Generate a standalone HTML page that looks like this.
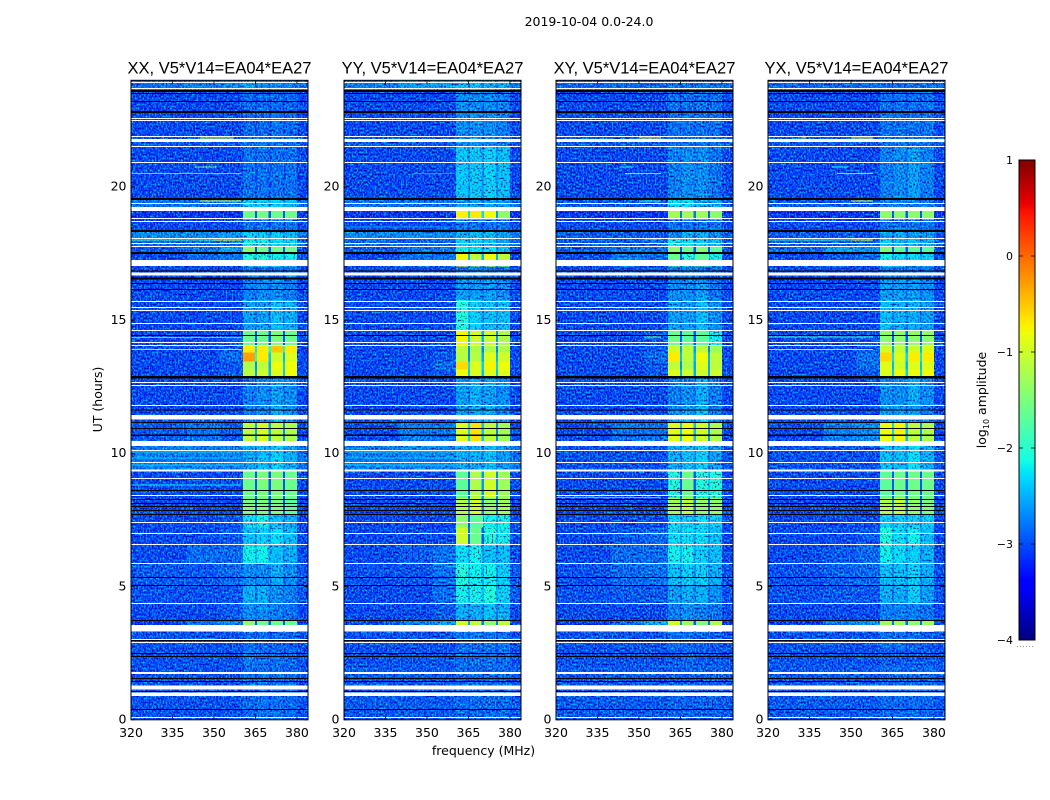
<!DOCTYPE html>
<html lang="en">
<head>
<meta charset="utf-8">
<title>2019-10-04 0.0-24.0 amplitude</title>
<style>
html,body{margin:0;padding:0;background:#fff;width:1050px;height:800px;overflow:hidden}
svg{display:block}
text{font-family:"DejaVu Sans","Liberation Sans",sans-serif;fill:#000}
text.panel-title{font-family:"Liberation Sans",sans-serif}
</style>
</head>
<body>
<svg id="chart" width="1050" height="800" viewBox="0 0 1050 800" xmlns="http://www.w3.org/2000/svg">
<defs id="defs"></defs>
<text x="589" y="26" font-size="12.5" text-anchor="middle">2019-10-04 0.0-24.0</text>
<text x="483.5" y="755" font-size="12.5" text-anchor="middle">frequency (MHz)</text>
<text transform="translate(102,399.5) rotate(-90)" font-size="12.5" text-anchor="middle">UT (hours)</text>
<text transform="translate(986,400) rotate(-90)" font-size="12.5" text-anchor="middle">log<tspan font-size="8" dy="3">10</tspan><tspan dy="-3"> amplitude</tspan></text>
<g id="panels"></g>
<g id="colorbar"></g>
</svg>
<script>
// ---- Categories and tick labels ----
const panelTitles = ["XX, V5*V14=EA04*EA27", "YY, V5*V14=EA04*EA27", "XY, V5*V14=EA04*EA27", "YX, V5*V14=EA04*EA27"];
const freqTicks = [320, 335, 350, 365, 380];
const hourTicks = [0, 5, 10, 15, 20];
const colorTicks = [1, 0, -1, -2, -3, -4];
const freqRange = [320, 384];
const hourRange = [0, 24];
const colorRange = [-4, 1];

// Frequency band edges in MHz: three background bands, four receiver sub-bands, one upper background band
const bandEdges = [320, 340, 352, 360.5, 365.2, 370.2, 375.3, 380, 384];
const notchCentres = [365.2, 370.2, 375.3];
const notchWidth = 0.8;
const strongNotchDepth = 1.25;
const weakNotchDepth = 0.35;
const brightLevel = -1.75;
const noiseFloorLevel = -2.95;
const noiseCompensation = 0.28;

// Start hour of each time block (descending), last entry closes the final block
const blockHours = [24, 23.63, 22.80, 21.91, 21.53, 19.58, 19.24, 18.78, 18.34, 18.07, 17.77, 17.51, 17.02, 16.57, 15.75, 14.62, 14.02, 13.79, 13.45, 13.15, 12.85, 11.80, 11.16, 10.45, 9.36, 8.32, 7.72, 7.22, 6.55, 5.88, 5.05, 4.38, 3.74, 3.29, 2.62, 2.06, 0];

// log10 amplitude per time block: one value per band of bandEdges
const xxLevels = [
[-2.7,-2.6,-2.5,-2.4,-2.5,-2.5,-2.6,-2.7],
[-3.2,-3.2,-3.2,-3.0,-3.0,-3.0,-3.0,-3.2],
[-3.2,-3.2,-3.2,-3.0,-3.0,-2.9,-3.0,-3.2],
[-3.1,-3.1,-3.1,-2.9,-2.9,-2.9,-3.0,-3.1],
[-3.2,-3.2,-3.2,-2.85,-2.85,-2.75,-2.85,-3.2],
[-2.7,-2.7,-2.7,-2.1,-2.1,-2.1,-2.2,-2.9],
[-3.3,-3.3,-3.3,-1.6,-1.55,-1.6,-1.6,-3.3],
[-3.2,-3.2,-3.2,-2.9,-2.9,-2.9,-2.9,-3.2],
[-2.5,-2.5,-2.4,-2.1,-2.1,-2.1,-2.2,-2.6],
[-3.0,-3.0,-2.8,-1.9,-1.9,-2.0,-2.0,-3.0],
[-3.1,-2.7,-2.4,-1.4,-1.6,-1.6,-1.6,-3.2],
[-3.2,-3.0,-2.8,-1.8,-1.8,-1.9,-1.9,-3.2],
[-3.2,-3.2,-3.2,-2.9,-2.8,-2.8,-2.9,-3.2],
[-3.2,-3.2,-3.2,-2.6,-2.5,-2.5,-2.6,-3.2],
[-3.2,-3.2,-3.2,-2.4,-2.4,-2.2,-2.3,-3.2],
[-3.2,-3.2,-3.1,-1.6,-1.6,-1.5,-1.6,-3.2],
[-3.2,-3.2,-3.1,-0.7,-0.7,-0.5,-0.7,-3.2],
[-3.2,-3.2,-3.0,-0.3,-0.7,-1.0,-0.9,-3.2],
[-3.2,-3.2,-3.1,-1.2,-1.1,-0.8,-0.8,-3.2],
[-3.2,-3.2,-3.1,-1.1,-1.0,-0.9,-0.8,-3.2],
[-3.2,-3.2,-3.2,-2.6,-2.5,-2.4,-2.5,-3.2],
[-3.2,-3.2,-3.2,-2.6,-2.5,-2.3,-2.5,-3.2],
[-3.1,-2.8,-3.1,-1.1,-0.95,-1.1,-1.2,-3.2],
[-2.6,-2.6,-2.55,-2.35,-2.2,-2.1,-2.3,-2.7],
[-3.2,-3.2,-3.2,-1.6,-1.5,-1.5,-1.6,-3.2],
[-3.2,-3.2,-3.2,-1.5,-1.5,-1.5,-1.7,-3.2],
[-3.2,-3.2,-3.1,-2.0,-1.9,-2.2,-2.3,-3.2],
[-3.2,-3.2,-3.1,-2.2,-2.1,-2.0,-2.2,-3.2],
[-3.2,-3.0,-3.0,-1.9,-1.9,-2.2,-2.3,-3.2],
[-3.1,-3.1,-3.0,-2.5,-2.5,-2.3,-2.5,-3.1],
[-3.15,-3.15,-3.1,-2.3,-2.3,-2.5,-2.6,-3.15],
[-3.2,-3.2,-3.1,-2.5,-2.5,-2.6,-2.7,-3.2],
[-3.3,-2.7,-2.6,-1.4,-1.6,-1.6,-1.6,-3.2],
[-3.15,-3.15,-3.15,-3.0,-3.0,-3.05,-3.05,-3.15],
[-3.15,-3.15,-3.15,-2.6,-2.7,-2.8,-3.0,-3.15],
[-3.15,-3.15,-3.15,-3.0,-2.9,-2.9,-3.0,-3.15]
];
const yyLevels = [
[-2.6,-2.4,-2.4,-2.2,-2.2,-2.3,-2.3,-2.7],
[-3.2,-3.2,-3.2,-2.5,-2.5,-2.5,-2.6,-3.2],
[-3.2,-3.2,-3.2,-2.5,-2.5,-2.5,-2.6,-3.2],
[-3.1,-3.1,-3.1,-2.6,-2.5,-2.5,-2.6,-3.1],
[-3.2,-3.2,-3.2,-2.15,-2.15,-2.1,-2.2,-3.2],
[-2.7,-2.7,-2.7,-2.4,-2.4,-2.4,-2.4,-2.9],
[-3.3,-3.3,-3.3,-0.75,-0.7,-0.8,-1.4,-3.3],
[-3.2,-3.2,-3.2,-2.9,-2.9,-2.9,-2.9,-3.2],
[-2.5,-2.5,-2.5,-2.3,-2.2,-2.2,-2.4,-2.6],
[-3.0,-3.0,-3.0,-2.1,-2.1,-2.2,-2.4,-3.0],
[-3.1,-2.9,-2.7,-1.9,-2.0,-2.0,-2.2,-3.2],
[-3.2,-2.7,-2.9,-0.75,-1.1,-0.8,-1.1,-3.2],
[-3.2,-3.2,-3.2,-2.8,-2.6,-2.7,-2.8,-3.2],
[-3.2,-3.2,-3.2,-2.4,-2.4,-2.4,-2.5,-3.2],
[-3.2,-3.2,-3.2,-1.8,-2.1,-2.2,-2.2,-3.2],
[-3.2,-3.2,-3.2,-0.75,-1.0,-1.0,-1.2,-3.2],
[-3.2,-3.2,-3.2,-1.1,-1.2,-1.2,-1.2,-3.2],
[-3.2,-3.2,-3.1,-1.15,-1.15,-0.9,-1.0,-3.2],
[-3.2,-3.2,-3.0,-0.6,-0.9,-0.75,-0.8,-3.2],
[-3.2,-3.2,-3.1,-0.8,-0.9,-0.9,-0.9,-3.2],
[-3.2,-3.2,-3.2,-2.4,-2.3,-2.4,-2.5,-3.2],
[-3.2,-3.2,-3.2,-2.4,-2.3,-2.3,-2.5,-3.2],
[-3.2,-2.6,-2.7,-0.9,-0.65,-1.1,-1.3,-3.2],
[-2.6,-2.55,-2.55,-2.3,-2.3,-2.2,-2.4,-2.7],
[-3.2,-3.2,-3.2,-1.7,-1.2,-1.0,-1.3,-3.2],
[-3.2,-3.2,-3.2,-1.2,-1.0,-1.4,-1.3,-3.2],
[-3.2,-3.2,-3.2,-1.4,-1.7,-1.9,-1.9,-3.2],
[-3.2,-3.2,-3.2,-1.0,-1.6,-1.8,-1.9,-3.2],
[-3.2,-3.1,-2.9,-2.0,-1.9,-2.2,-2.2,-3.2],
[-3.15,-3.15,-2.9,-1.8,-1.9,-1.9,-2.1,-3.1],
[-3.2,-3.2,-3.0,-1.9,-1.9,-1.8,-2.1,-3.1],
[-3.2,-3.2,-3.1,-2.3,-2.3,-2.2,-2.3,-3.2],
[-3.2,-2.6,-2.4,-1.0,-1.1,-1.4,-1.1,-3.2],
[-3.15,-3.15,-3.15,-2.7,-2.7,-2.8,-2.9,-3.15],
[-3.15,-3.15,-3.15,-2.7,-2.8,-2.9,-2.9,-3.15],
[-3.1,-3.1,-3.1,-3.0,-3.0,-3.0,-3.0,-3.1]
];
const xyLevels = [
[-3.0,-3.0,-3.0,-2.8,-2.8,-2.8,-2.9,-3.0],
[-3.2,-3.2,-3.2,-2.9,-2.8,-2.8,-2.9,-3.2],
[-3.2,-3.2,-3.2,-2.8,-2.7,-2.7,-2.9,-3.2],
[-3.1,-3.1,-3.1,-2.8,-2.8,-2.8,-2.9,-3.1],
[-3.2,-3.2,-3.2,-2.6,-2.5,-2.5,-2.7,-3.2],
[-3.1,-3.1,-3.1,-2.0,-2.0,-2.3,-2.3,-3.1],
[-3.3,-3.3,-3.3,-1.25,-1.25,-1.3,-1.4,-3.3],
[-3.2,-3.2,-3.2,-2.9,-2.9,-2.9,-2.9,-3.2],
[-3.1,-3.1,-3.1,-2.5,-2.3,-2.3,-2.5,-3.1],
[-3.1,-3.1,-3.0,-1.9,-2.0,-2.1,-2.2,-3.1],
[-3.1,-2.8,-2.8,-1.4,-1.6,-1.5,-1.7,-3.2],
[-3.2,-2.6,-3.0,-1.6,-1.8,-1.7,-1.9,-3.2],
[-3.2,-3.2,-3.2,-2.8,-2.6,-2.8,-3.0,-3.2],
[-3.2,-3.2,-3.2,-2.5,-2.5,-2.4,-2.7,-3.2],
[-3.2,-3.2,-3.2,-2.4,-2.4,-2.2,-2.5,-3.2],
[-3.2,-3.2,-3.1,-1.6,-1.7,-1.7,-1.9,-3.2],
[-3.2,-3.2,-3.1,-1.0,-1.1,-1.1,-1.3,-3.2],
[-3.2,-3.2,-3.0,-0.7,-1.1,-0.8,-1.1,-3.2],
[-3.2,-3.2,-3.1,-1.1,-1.2,-0.9,-1.1,-3.2],
[-3.2,-3.2,-3.1,-0.9,-1.0,-1.0,-1.0,-3.2],
[-3.2,-3.2,-3.2,-2.6,-2.5,-2.3,-2.6,-3.2],
[-3.2,-3.2,-3.2,-2.5,-2.4,-2.2,-2.6,-3.2],
[-3.2,-2.7,-2.9,-0.9,-0.8,-1.0,-1.2,-3.2],
[-3.15,-3.15,-3.15,-2.3,-2.2,-2.1,-2.4,-3.15],
[-3.2,-3.2,-3.2,-1.8,-1.6,-1.8,-1.8,-3.2],
[-3.2,-3.2,-3.2,-1.3,-1.1,-1.4,-1.4,-3.2],
[-3.2,-3.2,-3.2,-2.0,-2.1,-2.0,-2.1,-3.2],
[-3.2,-3.1,-3.0,-2.0,-2.0,-2.0,-2.2,-3.2],
[-3.2,-3.0,-3.0,-1.9,-1.9,-2.1,-2.2,-3.2],
[-3.15,-3.0,-2.9,-2.2,-2.1,-2.1,-2.3,-3.15],
[-3.15,-3.1,-3.1,-2.4,-2.3,-2.3,-2.5,-3.15],
[-3.2,-3.2,-3.2,-2.6,-2.5,-2.6,-2.7,-3.2],
[-3.3,-2.9,-2.3,-1.0,-1.3,-1.5,-1.2,-3.2],
[-3.15,-3.15,-3.15,-2.9,-3.0,-3.05,-3.1,-3.15],
[-3.15,-3.15,-3.15,-3.1,-3.0,-3.1,-3.1,-3.15],
[-3.1,-3.1,-3.1,-3.05,-3.05,-3.05,-3.05,-3.1]
];
const yxLevels = [
[-3.0,-3.0,-3.0,-2.8,-2.8,-2.8,-2.9,-3.0],
[-3.2,-3.2,-3.2,-2.9,-2.8,-2.8,-2.9,-3.2],
[-3.2,-3.2,-3.2,-2.8,-2.7,-2.7,-2.9,-3.2],
[-3.1,-3.1,-3.1,-2.8,-2.8,-2.8,-2.9,-3.1],
[-3.2,-3.2,-3.2,-2.6,-2.5,-2.4,-2.6,-3.2],
[-3.1,-3.1,-3.1,-2.6,-2.6,-2.6,-2.6,-3.1],
[-3.3,-3.3,-3.3,-1.4,-1.4,-1.4,-1.4,-3.3],
[-3.2,-3.2,-3.2,-2.9,-2.9,-2.9,-2.9,-3.2],
[-3.1,-3.1,-3.1,-2.4,-2.3,-2.4,-2.4,-3.1],
[-3.1,-3.1,-3.0,-2.1,-2.2,-2.2,-2.3,-3.1],
[-3.0,-2.4,-2.5,-1.5,-1.7,-1.7,-1.7,-3.2],
[-3.2,-3.1,-3.0,-1.9,-2.0,-2.0,-2.1,-3.2],
[-3.2,-3.2,-3.2,-2.6,-2.7,-2.7,-2.8,-3.2],
[-3.2,-3.2,-3.2,-2.4,-2.4,-2.4,-2.5,-3.2],
[-3.2,-3.2,-3.2,-2.2,-2.3,-2.3,-2.4,-3.2],
[-3.2,-3.2,-3.1,-1.4,-1.4,-1.4,-1.4,-3.2],
[-3.2,-3.2,-3.1,-1.0,-1.05,-1.0,-0.9,-3.2],
[-3.2,-3.2,-2.9,-0.6,-0.9,-0.7,-0.7,-3.2],
[-3.2,-3.2,-3.0,-0.9,-1.0,-0.9,-0.9,-3.2],
[-3.2,-3.2,-3.1,-0.9,-0.8,-0.8,-0.8,-3.2],
[-3.2,-3.2,-3.2,-2.5,-2.5,-2.3,-2.5,-3.2],
[-3.2,-3.2,-3.2,-2.4,-2.4,-2.4,-2.6,-3.2],
[-3.2,-2.6,-2.5,-0.8,-0.75,-1.1,-1.2,-3.2],
[-3.15,-3.15,-3.15,-2.2,-2.2,-2.0,-2.3,-3.15],
[-3.2,-3.2,-3.2,-1.7,-1.6,-1.6,-1.6,-3.2],
[-3.2,-3.2,-3.2,-1.2,-1.1,-1.4,-1.5,-3.2],
[-3.2,-3.2,-3.2,-2.1,-2.1,-2.1,-2.1,-3.2],
[-3.2,-3.2,-3.1,-1.8,-2.0,-1.9,-2.2,-3.2],
[-3.2,-3.1,-3.0,-1.9,-2.0,-2.1,-2.3,-3.2],
[-3.15,-3.05,-3.0,-2.2,-2.2,-2.1,-2.3,-3.15],
[-3.15,-3.1,-3.1,-2.3,-2.3,-2.1,-2.4,-3.15],
[-3.2,-3.2,-3.2,-2.6,-2.6,-2.6,-2.8,-3.2],
[-3.3,-2.7,-2.5,-1.3,-1.3,-1.4,-1.3,-3.2],
[-3.15,-3.15,-3.15,-2.8,-2.9,-3.0,-3.1,-3.15],
[-3.15,-3.15,-3.15,-3.1,-3.1,-3.1,-3.1,-3.15],
[-3.1,-3.1,-3.1,-3.0,-3.0,-3.0,-3.0,-3.1]
];

// Narrow interference lines: [hour, start MHz, end MHz, log10 amplitude]
const xxInterference = [[21.83,345,357,-1.0],[21.83,331,332,-0.2],[20.74,343,351,-1.5],[20.50,320,360,-2.2],[19.47,345,360,-1.0],[18.0,350,360,-0.8],[18.0,320,350,-1.9],[14.35,320,360,-2.2],[13.90,320,360,-1.5],[10.05,320,360,-2.35],[9.82,320,360,-2.4],[9.75,320,360,-2.9],[9.56,320,360,-2.35],[8.82,320,360,-2.2]];
const yyInterference = [[20.50,345,360,-2.6],[18.5,320,360,-2.6],[10.05,320,360,-2.35],[9.82,320,360,-2.4],[9.75,320,360,-2.9],[9.56,320,360,-2.35]];
const xyInterference = [[21.83,350,358,-1.0],[20.50,345,358,-1.9],[20.74,343,348,-2.0],[19.47,350,358,-2.0],[18.05,352,358,-1.9],[14.37,352,358,-1.6],[8.35,320,358,-2.3]];
const yxInterference = [[21.83,350,358,-0.9],[21.83,332,334,-1.2],[20.74,343,349,-2.0],[20.50,345,358,-1.9],[19.47,350,358,-1.0],[18.0,350,358,-0.9],[18.0,320,350,-2.0],[14.37,320,358,-1.8],[13.90,320,358,-1.4]];

// Rows with no data (white): narrow rows by centre hour, wider rows by [start, end]
const flaggedThin = [23.91,23.69,22.56,22.49,21.89,21.51,20.91,19.37,18.81,18.70,18.06,17.87,17.76,15.70,15.47,15.36,14.87,14.61,14.16,14.05,12.66,12.54,11.79,10.11,9.65,9.05,8.42,7.40,6.99,6.58,5.86,4.36,3.01,2.90,0.09];
const flaggedWide = [[21.68,21.79],[19.09,19.24],[17.03,17.25],[16.68,16.79],[11.27,11.44],[10.27,10.46],[9.32,9.39],[3.31,3.56],[1.72,1.79],[1.14,1.28],[0.89,1.03]];

// Rows with zero amplitude (black)
const zeroThin = [23.50,23.20,16.85,16.37,16.15,14.42,11.62,11.16,10.93,8.60,8.27,8.12,8.00,7.85,7.70,5.34,5.04,3.73,2.98,2.49,2.38,1.55,1.44,1.06,0.39];
const zeroWide = [[23.56,23.63],[22.77,22.84],[19.50,19.58],[18.30,18.38],[17.48,17.55],[16.52,16.60],[12.81,12.90],[10.65,10.71]];

const panelLevels = [xxLevels, yyLevels, xyLevels, yxLevels];
const panelInterference = [xxInterference, yyInterference, xyInterference, yxInterference];
const panelKeys = ["xx", "yy", "xy", "yx"];

// ---- Layout and scales ----
const NS = "http://www.w3.org/2000/svg";
const plotLefts = [131, 344, 556, 768];
const plotWidth = 177;
const plotTop = 80.3;
const plotBottom = 719.8;
const rowThick = 0.0375;
const noiseSeeds = [3, 11, 23, 37];

// Noise texture: one filter lifts the green channel, one scales green and blue down
let filterMarkup = "";
noiseSeeds.forEach(function (seed, i) {
  const turb = '<feTurbulence type="fractalNoise" baseFrequency="0.65 0.5" numOctaves="1" seed="' + seed + '"/>';
  filterMarkup += '<filter id="lift' + i + '" x="0" y="0" width="100%" height="100%" color-interpolation-filters="sRGB">' + turb +
    '<feColorMatrix type="matrix" values="0 0 0 0 0 2.2 0 0 0 -0.95 0 0 0 0 0 0 0 0 0 1"/></filter>';
  filterMarkup += '<filter id="dim' + i + '" x="0" y="0" width="100%" height="100%" color-interpolation-filters="sRGB">' + turb +
    '<feColorMatrix type="matrix" values="0 0 0 0 1 4 0 0 0 -0.8 2 0 0 0 0.1 0 0 0 0 1"/></filter>';
});
document.getElementById("defs").innerHTML = filterMarkup;

function hourY(h) { return plotTop + (hourRange[1] - h) / (hourRange[1] - hourRange[0]) * (plotBottom - plotTop); }
function freqX(left, f) { return left + (f - freqRange[0]) / (freqRange[1] - freqRange[0]) * plotWidth; }

function ramp(t, pts) {
  if (t <= pts[0][0]) return pts[0][1];
  for (let i = 1; i < pts.length; i++) {
    if (t <= pts[i][0]) {
      const p = pts[i - 1], q = pts[i];
      return p[1] + (q[1] - p[1]) * (t - p[0]) / (q[0] - p[0]);
    }
  }
  return pts[pts.length - 1][1];
}
function jet(v) {
  const t = Math.max(0, Math.min(1, (v - colorRange[0]) / (colorRange[1] - colorRange[0])));
  const r = ramp(t, [[0.35, 0], [0.66, 1], [0.89, 1], [1, 0.5]]);
  const g = ramp(t, [[0.125, 0], [0.375, 1], [0.64, 1], [0.91, 0]]);
  const b = ramp(t, [[0, 0.5], [0.11, 1], [0.34, 1], [0.65, 0]]);
  return "rgb(" + Math.round(r * 255) + "," + Math.round(g * 255) + "," + Math.round(b * 255) + ")";
}
// The noise texture brightens faint cells, so their base colour sits a little lower
function cellColour(value) {
  if (value > brightLevel || value <= noiseFloorLevel) return jet(value);
  return jet(Math.max(noiseFloorLevel, value - noiseCompensation));
}
function mk(tag, attrs, parent) {
  const node = document.createElementNS(NS, tag);
  for (const k in attrs) node.setAttribute(k, attrs[k]);
  parent.appendChild(node);
  return node;
}
function crispRect(parent, x0, x1, y0, y1, fill) {
  return mk("rect", { x: x0, y: y0, width: x1 - x0, height: Math.max(y1 - y0, 0.5), fill: fill, "shape-rendering": "crispEdges" }, parent);
}

const panelsRoot = document.getElementById("panels");

panelTitles.forEach(function (title, p) {
  const left = plotLefts[p];
  const right = left + plotWidth;
  const key = panelKeys[p];

  const group = mk("g", {}, panelsRoot);
  
  

  const titleEl = mk("text", { x: left + plotWidth / 2, y: 73.5, "font-size": 16.5, "text-anchor": "middle", class: "panel-title" }, group);
  titleEl.textContent = title;
  
  

  const dimLayer = mk("g", {}, group);
  
  

  // Fine receiver-noise texture sits over the faint cells only
  const grainLift = mk("rect", { x: left, y: plotTop, width: plotWidth, height: plotBottom - plotTop, filter: "url(#lift" + p + ")", style: "mix-blend-mode:screen" }, group);
  
  
  const grainDim = mk("rect", { x: left, y: plotTop, width: plotWidth, height: plotBottom - plotTop, filter: "url(#dim" + p + ")", style: "mix-blend-mode:multiply" }, group);
  
  

  const brightLayer = mk("g", {}, group);
  
  

  // Band cells for every time block
  panelLevels[p].forEach(function (row, b) {
    const y0 = hourY(blockHours[b]);
    const y1 = hourY(blockHours[b + 1]);
    row.forEach(function (value, c) {
      const layer = value > brightLevel ? brightLayer : dimLayer;
      const cell = crispRect(layer, freqX(left, bandEdges[c]), freqX(left, bandEdges[c + 1]), y0, y1, cellColour(value));
      
      
    });
    // Darker sub-band edge notches follow the neighbouring levels
    notchCentres.forEach(function (f, n) {
      const mean = (row[3 + n] + row[4 + n]) / 2;
      const depth = mean > brightLevel ? strongNotchDepth : weakNotchDepth;
      const level = Math.max(row[0], mean - depth);
      const layer = mean > brightLevel ? brightLayer : dimLayer;
      const notch = crispRect(layer, freqX(left, f - notchWidth / 2), freqX(left, f + notchWidth / 2), y0, y1, cellColour(level));
      
      
    });
  });

  // Interference lines
  panelInterference[p].forEach(function (line) {
    const y = hourY(line[0]);
    const rfi = crispRect(group, freqX(left, line[1]), freqX(left, line[2]), y - 0.5, y + 0.5, jet(line[3]));
    
    
  });

  // Flagged and zero rows
  flaggedThin.forEach(function (h) {
    const r = crispRect(group, left, right, hourY(h + rowThick / 2), hourY(h - rowThick / 2), "#fff");
    
    
  });
  flaggedWide.forEach(function (span) {
    const r = crispRect(group, left, right, hourY(span[1]), hourY(span[0]), "#fff");
    
    
  });
  zeroThin.forEach(function (h) {
    const r = crispRect(group, left, right, hourY(h + rowThick / 2), hourY(h - rowThick / 2), "#000");
    
    
  });
  zeroWide.forEach(function (span) {
    const r = crispRect(group, left, right, hourY(span[1]), hourY(span[0]), "#000");
    
    
  });

  // Frame
  const frame = mk("rect", { x: left, y: plotTop, width: plotWidth, height: plotBottom - plotTop, fill: "none", stroke: "#000", "stroke-width": 1 }, group);
  
  

  // X ticks
  freqTicks.forEach(function (f) {
    const x = freqX(left, f);
    const t1 = mk("line", { x1: x, x2: x, y1: plotBottom, y2: plotBottom - 4, stroke: "#000", "stroke-width": 0.8 }, group);
    
    
    const t2 = mk("line", { x1: x, x2: x, y1: plotTop, y2: plotTop + 4, stroke: "#000", "stroke-width": 0.8 }, group);
    
    
    const lab = mk("text", { x: x, y: 737, "font-size": 12.5, "text-anchor": "middle" }, group);
    lab.textContent = String(f);
    
    
  });

  // Y ticks
  hourTicks.forEach(function (h) {
    const y = hourY(h);
    const t1 = mk("line", { x1: left, x2: left + 4, y1: y, y2: y, stroke: "#000", "stroke-width": 0.8 }, group);
    
    
    const t2 = mk("line", { x1: right, x2: right - 4, y1: y, y2: y, stroke: "#000", "stroke-width": 0.8 }, group);
    
    
    const lab = mk("text", { x: left - 4.5, y: y + 3.8, "font-size": 12.5, "text-anchor": "end" }, group);
    lab.textContent = String(h);
    
    
  });
});

// ---- Colorbar ----
const cbRoot = document.getElementById("colorbar");
const cbLeft = 1019, cbRight = 1035, cbTop = 160, cbBottom = 640;
const cbSteps = 240;
function cbY(v) { return cbBottom - (v - colorRange[0]) / (colorRange[1] - colorRange[0]) * (cbBottom - cbTop); }
for (let i = 0; i < cbSteps; i++) {
  const v0 = colorRange[0] + (colorRange[1] - colorRange[0]) * i / cbSteps;
  const v1 = colorRange[0] + (colorRange[1] - colorRange[0]) * (i + 1) / cbSteps;
  const band = crispRect(cbRoot, cbLeft, cbRight, cbY(v1), cbY(v0), jet((v0 + v1) / 2));
  
  
}
const cbFrame = mk("rect", { x: cbLeft, y: cbTop, width: cbRight - cbLeft, height: cbBottom - cbTop, fill: "none", stroke: "#000", "stroke-width": 1 }, cbRoot);


colorTicks.forEach(function (v) {
  const y = cbY(v);
  const lab = mk("text", { x: 1013, y: y + 4, "font-size": 11, "text-anchor": "end" }, cbRoot);
  lab.textContent = v < 0 ? "\u2212" + Math.abs(v) : String(v);
  
  
  const t1 = mk("line", { x1: cbLeft, x2: cbLeft + 4, y1: y, y2: y, stroke: "#000", "stroke-width": 0.8 }, cbRoot);
  
  
  const t2 = mk("line", { x1: cbRight, x2: cbRight - 4, y1: y, y2: y, stroke: "#000", "stroke-width": 0.8 }, cbRoot);
  
  
});
const cbDots = mk("line", { x1: 1017, x2: 1035, y1: 646.5, y2: 646.5, stroke: "#999", "stroke-width": 1, "stroke-dasharray": "1 2" }, cbRoot);


</script>
</body>
</html>
